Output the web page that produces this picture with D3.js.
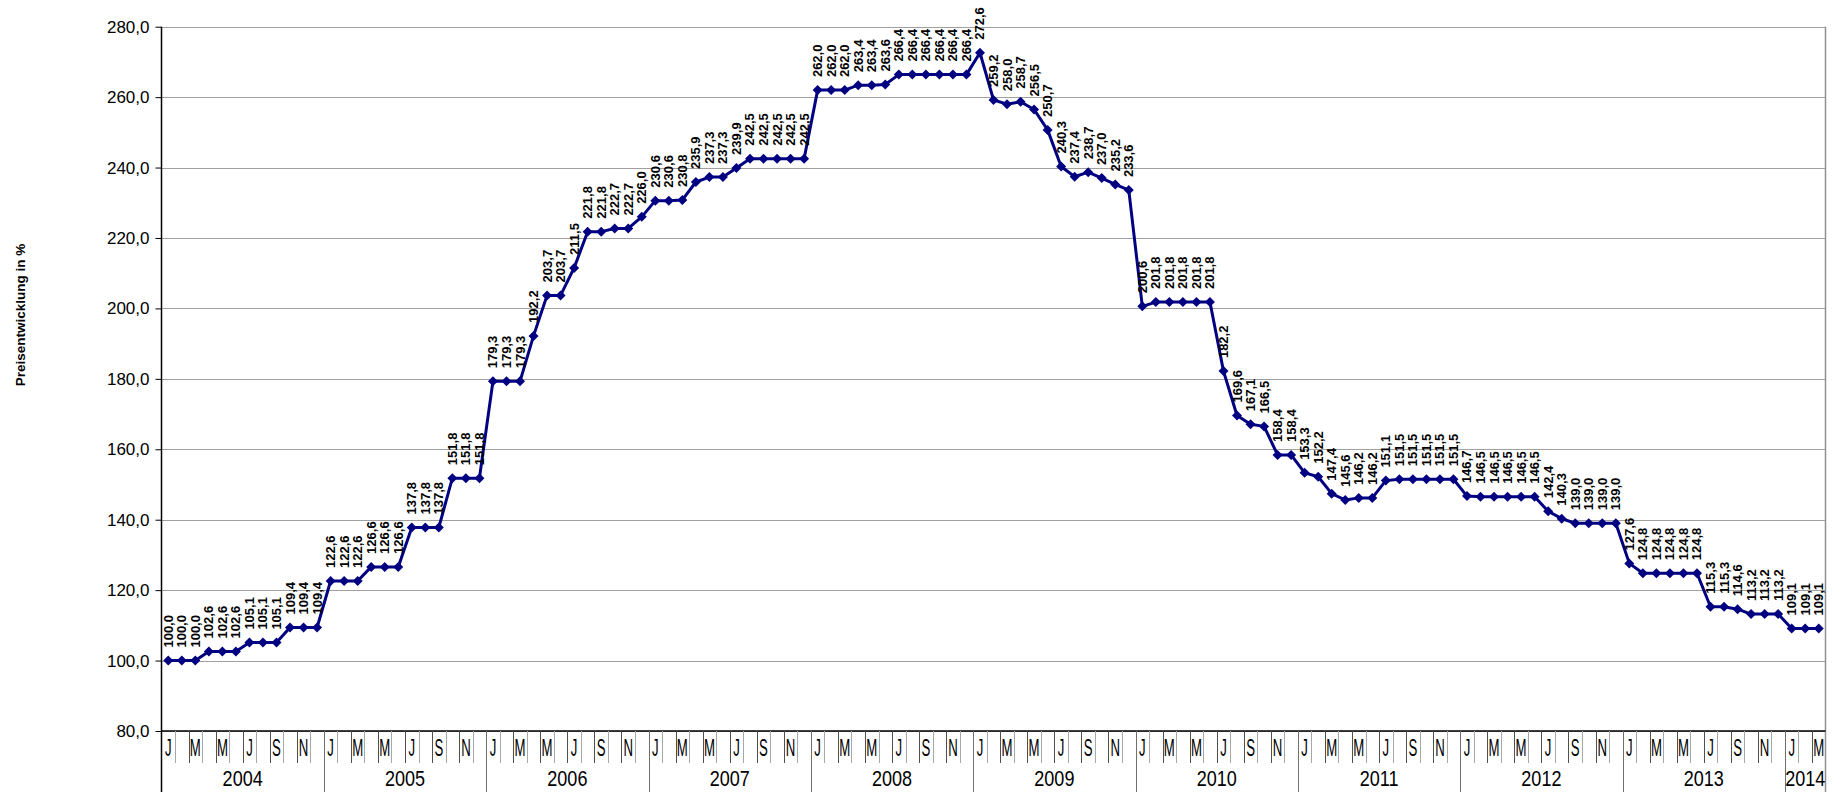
<!DOCTYPE html>
<html><head><meta charset="utf-8">
<script src="https://cdn.jsdelivr.net/npm/d3@7/dist/d3.min.js"></script>
<style>
html,body{margin:0;padding:0;background:#fff;}
svg{display:block;font-family:"Liberation Sans",Arial,sans-serif;}
</style></head>
<body>
<svg id="chart" width="1843" height="792"></svg>
<script>
// ---- data ----
const monthLetters = ["J","F","M","A","M","J","J","A","S","O","N","D"];
const years = ["2004","2005","2006","2007","2008","2009","2010","2011","2012","2013","2014"];
const v2004 = [100.0,100.0,100.0,102.6,102.6,102.6,105.1,105.1,105.1,109.4,109.4,109.4];
const v2005 = [122.6,122.6,122.6,126.6,126.6,126.6,137.8,137.8,137.8,151.8,151.8,151.8];
const v2006 = [179.3,179.3,179.3,192.2,203.7,203.7,211.5,221.8,221.8,222.7,222.7,226.0];
const v2007 = [230.6,230.6,230.8,235.9,237.3,237.3,239.9,242.5,242.5,242.5,242.5,242.5];
const v2008 = [262.0,262.0,262.0,263.4,263.4,263.6,266.4,266.4,266.4,266.4,266.4,266.4];
const v2009 = [272.6,259.2,258.0,258.7,256.5,250.7,240.3,237.4,238.7,237.0,235.2,233.6];
const v2010 = [200.6,201.8,201.8,201.8,201.8,201.8,182.2,169.6,167.1,166.5,158.4,158.4];
const v2011 = [153.3,152.2,147.4,145.6,146.2,146.2,151.1,151.5,151.5,151.5,151.5,151.5];
const v2012 = [146.7,146.5,146.5,146.5,146.5,146.5,142.4,140.3,139.0,139.0,139.0,139.0];
const v2013 = [127.6,124.8,124.8,124.8,124.8,124.8,115.3,115.3,114.6,113.2,113.2,113.2];
const v2014 = [109.1,109.1,109.1];
const yTicks = [80,100,120,140,160,180,200,220,240,260,280];
const yTitle = "Preisentwicklung in %";

const yearValues = [v2004,v2005,v2006,v2007,v2008,v2009,v2010,v2011,v2012,v2013,v2014];
const data = [];
yearValues.forEach((arr, yi) => arr.forEach((v, mi) => data.push({year: years[yi], month: mi, value: v, idx: data.length})));

// ---- layout ----
const L = 161.5, R = 1825.5, T = 26.7, B = 731;
const svg = d3.select("#chart");
const de = d3.formatLocale({decimal: ",", thousands: ".", grouping: [3], currency: ["", " €"]});
const fmt = de.format(".1f");

const x = d3.scaleBand().domain(data.map(d => d.idx)).range([L, R]).padding(0);
const y = d3.scaleLinear().domain([80, 280]).range([B, T]);
const cx = d => x(d.idx) + x.bandwidth() / 2;

// gridlines
svg.append("g").selectAll("line").data(yTicks).join("line")
  .attr("x1", L).attr("x2", R)
  .attr("y1", d => Math.round(y(d)) + 0.5).attr("y2", d => Math.round(y(d)) + 0.5)
  .attr("stroke", "#a0a0a0").attr("stroke-width", 1);

// y axis
const yAxis = d3.axisLeft(y).tickValues(yTicks).tickFormat(fmt).tickSize(6).tickPadding(6);
const gy = svg.append("g").attr("transform", `translate(${L},0)`).call(yAxis);
gy.select(".domain").remove();
gy.selectAll(".tick line").attr("stroke", "#000");
gy.selectAll(".tick text").attr("font-size", 17).attr("fill", "#000")
  .attr("font-family", "'Liberation Sans', Arial, sans-serif");

// left axis line & right border
svg.append("line").attr("x1", L).attr("x2", L).attr("y1", T).attr("y2", 792)
  .attr("stroke", "#000").attr("stroke-width", 1.5);
svg.append("line").attr("x1", R).attr("x2", R).attr("y1", T).attr("y2", 792)
  .attr("stroke", "#909090").attr("stroke-width", 1.5);
// bottom axis line
svg.append("line").attr("x1", L).attr("x2", R).attr("y1", B).attr("y2", B)
  .attr("stroke", "#000").attr("stroke-width", 1.5);

// x axis: month separators
const gx = svg.append("g");
gx.selectAll("line.m").data(data.slice(1)).join("line").attr("class", "m")
  .attr("x1", d => Math.round(x(d.idx)) + 0.5).attr("x2", d => Math.round(x(d.idx)) + 0.5)
  .attr("y1", B).attr("y2", d => d.month === 0 ? 792 : 763)
  .attr("stroke", d => d.month === 0 ? "#707070" : (d.month % 2 === 0 ? "#505050" : "#a8a8a8"))
  .attr("stroke-width", 1);
// month labels
gx.selectAll("text.m").data(data.filter(d => d.month % 2 === 0)).join("text").attr("class", "m")
  .attr("transform", d => `translate(${cx(d)},756) scale(0.55,1)`)
  .attr("text-anchor", "middle").attr("font-size", 24).attr("fill", "#000")
  .text(d => monthLetters[d.month]);
// year labels
const yearGroups = d3.groups(data, d => d.year);
gx.selectAll("text.y").data(yearGroups).join("text").attr("class", "y")
  .attr("transform", g => {
    const first = g[1][0], last = g[1][g[1].length - 1];
    const mid = (x(first.idx) + x(last.idx) + x.bandwidth()) / 2;
    return `translate(${mid},786) scale(0.82,1)`;
  })
  .attr("text-anchor", "middle").attr("font-size", 22).attr("fill", "#000")
  .text(g => g[0]);

// y title
svg.append("text").attr("transform", "translate(25,315) rotate(-90)")
  .attr("text-anchor", "middle").attr("font-size", 13.5).attr("font-weight", "bold")
  .attr("fill", "#000").text(yTitle);

// line
const line = d3.line().x(cx).y(d => y(d.value));
svg.append("path").datum(data).attr("d", line)
  .attr("fill", "none").attr("stroke", "#000080").attr("stroke-width", 3)
  .attr("stroke-linejoin", "round");

// markers
const diamond = d3.symbol().type(d3.symbolSquare).size(50);
svg.append("g").selectAll("path").data(data).join("path")
  .attr("transform", d => `translate(${cx(d)},${y(d.value)}) rotate(45)`)
  .attr("d", diamond).attr("fill", "#000080");

// data labels
svg.append("g").selectAll("text").data(data).join("text")
  .attr("transform", d => `translate(${cx(d) + 4.5},${y(d.value) - 13}) rotate(-90)`)
  .attr("font-size", 13).attr("font-weight", "bold").attr("fill", "#000")
  .text(d => fmt(d.value));
</script>
</body></html>
